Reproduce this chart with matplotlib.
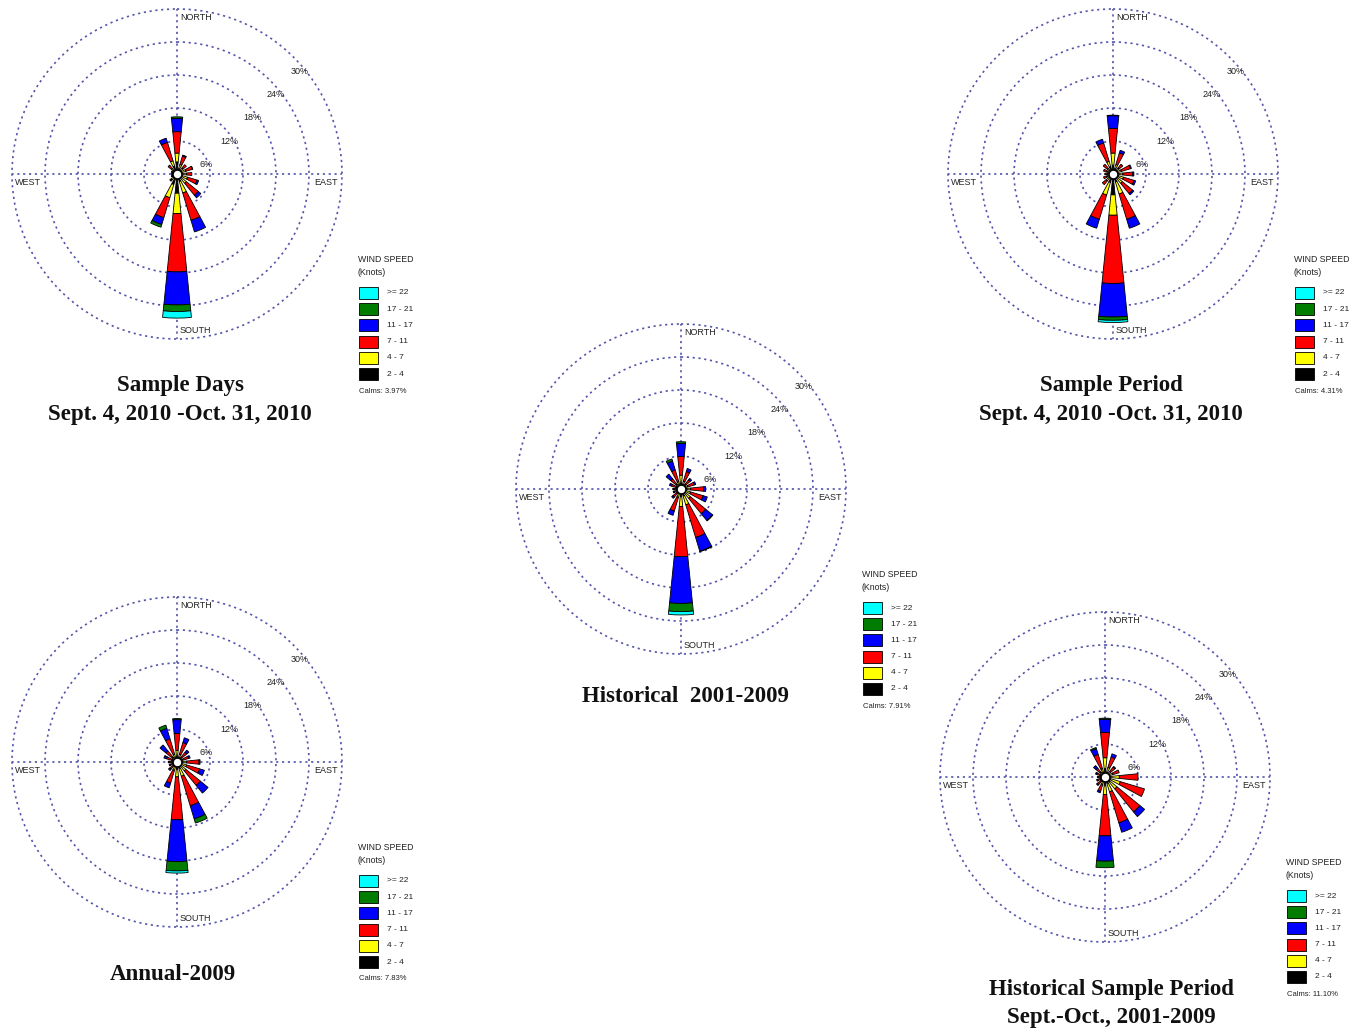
import numpy as np
import matplotlib
matplotlib.use('Agg')
import matplotlib.pyplot as plt
from matplotlib.patches import Rectangle

W, H = 1354, 1033
R = 165  # pixel radius of the 30% ring

directions = ['N', 'NNE', 'NE', 'ENE', 'E', 'ESE', 'SE', 'SSE',
              'S', 'SSW', 'SW', 'WSW', 'W', 'WNW', 'NW', 'NNW']
speed_labels = ['2 - 4', '4 - 7', '7 - 11', '11 - 17', '17 - 21', '>= 22']
speed_colors = ['#000000', '#ffff00', '#ff0000', '#0000ff', '#007c00', '#00ffff']
rings = [6, 12, 18, 24, 30]

# frequency (%) per direction, one column per speed class (2-4 ... >=22)
sample_days = np.array([
    [2.2, 1.6, 3.9, 2.4, 0.3, 0.0],
    [1.0, 0.8, 1.6, 0.2, 0.0, 0.0],
    [0.8, 0.6, 0.8, 0.0, 0.0, 0.0],
    [0.9, 0.8, 1.2, 0.1, 0.0, 0.0],
    [0.9, 0.8, 1.0, 0.0, 0.0, 0.0],
    [1.0, 1.0, 1.8, 0.3, 0.0, 0.0],
    [1.0, 1.2, 2.8, 0.6, 0.0, 0.0],
    [1.4, 2.2, 5.2, 2.2, 0.0, 0.0],
    [3.5, 3.7, 10.6, 6.0, 1.2, 1.2],
    [2.0, 2.5, 3.8, 1.3, 0.5, 0.0],
    [0.8, 0.6, 0.3, 0.0, 0.0, 0.0],
    [0.6, 0.3, 0.2, 0.0, 0.0, 0.0],
    [0.5, 0.3, 0.2, 0.0, 0.0, 0.0],
    [0.5, 0.3, 0.3, 0.0, 0.0, 0.0],
    [0.8, 0.5, 0.8, 0.0, 0.0, 0.0],
    [1.5, 1.0, 3.5, 0.8, 0.0, 0.0],
])
sample_period = np.array([
    [1.6, 2.2, 4.5, 2.3, 0.1, 0.0],
    [1.0, 0.8, 2.2, 0.5, 0.0, 0.0],
    [0.8, 0.6, 0.9, 0.0, 0.0, 0.0],
    [0.8, 0.8, 1.7, 0.2, 0.0, 0.0],
    [0.9, 0.9, 1.8, 0.2, 0.0, 0.0],
    [1.0, 1.0, 2.0, 0.3, 0.0, 0.0],
    [1.0, 1.2, 2.4, 0.3, 0.0, 0.0],
    [1.5, 2.3, 4.8, 1.7, 0.0, 0.0],
    [3.8, 3.7, 12.4, 6.1, 0.6, 0.4],
    [1.6, 2.4, 4.6, 1.7, 0.0, 0.0],
    [0.9, 0.7, 0.9, 0.0, 0.0, 0.0],
    [0.7, 0.5, 0.6, 0.0, 0.0, 0.0],
    [0.6, 0.4, 0.5, 0.0, 0.0, 0.0],
    [0.7, 0.5, 0.6, 0.0, 0.0, 0.0],
    [0.8, 0.5, 1.0, 0.0, 0.0, 0.0],
    [1.4, 1.0, 3.5, 0.7, 0.0, 0.0],
])
historical = np.array([
    [1.0, 1.5, 3.4, 2.4, 0.3, 0.0],
    [0.8, 0.7, 1.8, 0.6, 0.0, 0.0],
    [0.6, 0.5, 1.0, 0.4, 0.0, 0.0],
    [0.7, 0.6, 1.2, 0.3, 0.0, 0.0],
    [0.9, 0.8, 2.4, 0.4, 0.0, 0.0],
    [0.9, 0.9, 2.4, 0.8, 0.0, 0.0],
    [1.0, 1.2, 3.6, 1.6, 0.1, 0.0],
    [1.3, 1.7, 6.2, 2.6, 0.1, 0.0],
    [1.4, 1.8, 9.1, 8.5, 1.5, 0.6],
    [0.8, 0.8, 2.6, 0.8, 0.0, 0.0],
    [0.6, 0.4, 0.9, 0.3, 0.0, 0.0],
    [0.5, 0.3, 0.5, 0.2, 0.0, 0.0],
    [0.5, 0.3, 0.5, 0.2, 0.0, 0.0],
    [0.6, 0.4, 0.8, 0.4, 0.0, 0.0],
    [0.6, 0.5, 1.3, 1.1, 0.0, 0.0],
    [0.7, 0.7, 2.2, 1.7, 0.4, 0.0],
])
annual_2009 = np.array([
    [1.0, 1.1, 3.1, 2.5, 0.2, 0.0],
    [0.8, 0.7, 2.2, 0.9, 0.0, 0.0],
    [0.6, 0.5, 1.2, 0.5, 0.0, 0.0],
    [0.6, 0.5, 1.1, 0.3, 0.0, 0.0],
    [0.9, 0.8, 2.3, 0.2, 0.0, 0.0],
    [0.9, 0.9, 2.5, 0.9, 0.0, 0.0],
    [1.0, 1.1, 3.4, 1.8, 0.0, 0.0],
    [1.2, 1.5, 5.6, 2.5, 0.8, 0.0],
    [1.3, 1.4, 7.8, 7.6, 1.7, 0.4],
    [0.8, 0.8, 2.4, 0.9, 0.0, 0.0],
    [0.5, 0.4, 0.8, 0.3, 0.0, 0.0],
    [0.5, 0.3, 0.5, 0.2, 0.0, 0.0],
    [0.5, 0.3, 0.6, 0.2, 0.0, 0.0],
    [0.6, 0.4, 1.0, 0.5, 0.0, 0.0],
    [0.6, 0.5, 1.5, 1.4, 0.0, 0.0],
    [0.7, 0.8, 2.9, 2.0, 0.6, 0.0],
])
hist_sample_period = np.array([
    [1.5, 2.0, 4.6, 2.4, 0.2, 0.0],
    [0.9, 0.9, 2.0, 0.6, 0.0, 0.0],
    [0.7, 0.6, 1.0, 0.2, 0.0, 0.0],
    [0.8, 0.7, 1.2, 0.0, 0.0, 0.0],
    [1.0, 1.6, 3.4, 0.0, 0.0, 0.0],
    [1.1, 1.8, 4.6, 0.0, 0.0, 0.0],
    [1.1, 1.7, 5.4, 1.1, 0.0, 0.0],
    [1.2, 1.6, 5.9, 1.8, 0.0, 0.0],
    [1.6, 1.6, 7.5, 4.6, 1.2, 0.0],
    [0.8, 0.6, 1.3, 0.3, 0.0, 0.0],
    [0.6, 0.4, 0.8, 0.2, 0.0, 0.0],
    [0.5, 0.3, 0.6, 0.2, 0.0, 0.0],
    [0.5, 0.3, 0.5, 0.1, 0.0, 0.0],
    [0.6, 0.4, 0.6, 0.2, 0.0, 0.0],
    [0.6, 0.5, 1.0, 0.6, 0.0, 0.0],
    [0.8, 0.8, 2.7, 1.1, 0.2, 0.0],
])

calms = [3.97, 4.31, 7.91, 7.83, 11.10]
titles = [
    ['Sample Days', 'Sept. 4, 2010 -Oct. 31, 2010'],
    ['Sample Period', 'Sept. 4, 2010 -Oct. 31, 2010'],
    ['Historical  2001-2009'],
    ['Annual-2009'],
    ['Historical Sample Period', 'Sept.-Oct., 2001-2009'],
]

grid_color = '#5454aa'
dotted = (0, (1.3, 2.2))
sans = 'Liberation Sans'
serif = 'Liberation Serif'

fig = plt.figure(figsize=(W / 100, H / 100), dpi=100)
fig.patch.set_facecolor('white')


def fx(x):
    return x / W


def fy(y):
    return 1 - y / H


def draw_rose(cx, cy, data, calm, title, tx, ty):
    ax = fig.add_axes([fx(cx - R), fy(cy + R), 2 * R / W, 2 * R / H],
                      projection='polar')
    ax.set_theta_zero_location('N')
    ax.set_theta_direction(-1)
    ax.set_ylim(0, 30)
    ax.set_facecolor('none')
    ax.spines['polar'].set_visible(False)
    ax.set_rgrids(rings, labels=[])
    ax.set_thetagrids([0, 90, 180, 270], labels=[])
    ax.grid(True, color=grid_color, linestyle=dotted, linewidth=1.2)
    ax.set_axisbelow(True)
    for gl in ax.yaxis.get_gridlines():
        gl.set_clip_on(False)

    theta = np.deg2rad(np.arange(len(directions)) * 22.5)
    width = np.deg2rad(11.5)
    bottom = np.zeros(len(directions))
    for k, color in enumerate(speed_colors):
        vals = data[:, k]
        keep = vals > 0
        ax.bar(theta[keep], vals[keep], width=width, bottom=bottom[keep],
               color=color, edgecolor='black', linewidth=0.6, zorder=3)
        bottom += vals
    ax.scatter([0], [0], s=40, c='white', edgecolors='black',
               linewidths=1.0, zorder=5)

    # ring percentages
    for r in rings:
        ax.annotate(f'{r}%', (np.pi / 4, r), xytext=(4, -10),
                    textcoords='offset points', ha='center', va='center',
                    fontsize=6.5, family=sans, color='#222222', zorder=6)
    lab = dict(fontsize=6.5, family=sans, color='#222222', zorder=6,
               textcoords='offset points', va='center')
    ax.annotate('NORTH', (0, 30), xytext=(2, -6), ha='left', **lab)
    ax.annotate('SOUTH', (np.pi, 30), xytext=(2, 6), ha='left', **lab)
    ax.annotate('EAST', (np.pi / 2, 30), xytext=(-3, -6), ha='right', **lab)
    ax.annotate('WEST', (3 * np.pi / 2, 30), xytext=(2, -6), ha='left', **lab)

    # legend block
    lx, ly = cx + 181, cy + 92
    fig.text(fx(lx), fy(ly), 'WIND SPEED\n(Knots)', fontsize=6.3,
             family=sans, va='center', ha='left', linespacing=1.5,
             color='#222222')
    for i, k in enumerate(range(len(speed_labels) - 1, -1, -1)):
        yc = cy + 119 + i * 16.2
        fig.add_artist(Rectangle((fx(lx + 1), fy(yc + 6)), 19 / W, 12 / H,
                                 transform=fig.transFigure,
                                 facecolor=speed_colors[k],
                                 edgecolor='black', linewidth=0.6))
        fig.text(fx(lx + 29), fy(yc), speed_labels[k], fontsize=6,
                 family=sans, va='center', ha='left', color='#222222')
    fig.text(fx(lx + 1), fy(cy + 217), f'Calms: {calm:.2f}%', fontsize=5.5,
             family=sans, va='center', ha='left', color='#222222')

    for j, line in enumerate(title):
        fig.text(fx(tx), fy(ty + j * 28), line, fontsize=16.5, family=serif,
                 weight='bold', ha='center', va='center', color='#111111')


draw_rose(177, 174, sample_days, calms[0], titles[0], 180, 386)
draw_rose(1113, 174, sample_period, calms[1], titles[1], 1111, 386)
draw_rose(681, 489, historical, calms[2], titles[2], 686, 697)
draw_rose(177, 762, annual_2009, calms[3], titles[3], 173, 974)
draw_rose(1105, 777, hist_sample_period, calms[4], titles[4], 1111, 989)

fig.savefig('out.png', dpi=100, facecolor='white')
